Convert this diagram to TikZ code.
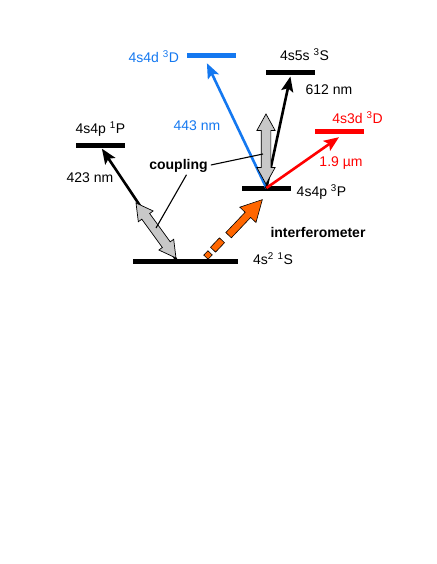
\documentclass[tikz,border=0pt]{standalone}
\usepackage{fontspec}
\setmainfont{Liberation Sans}
\usepackage{tikz}
\usetikzlibrary{arrows.meta,positioning,shapes.arrows,calc}
\definecolor{lineblue}{RGB}{20,120,240}
\definecolor{linered}{RGB}{255,0,0}
\definecolor{lineorange}{RGB}{255,102,0}
\definecolor{fillgray}{RGB}{200,200,200}

\begin{document}
\begin{tikzpicture}[x=1pt, y=-1pt,
        every node/.style={font=\fontsize{14}{16}\selectfont, inner sep=1pt},
        level/.style={rectangle, fill=black, minimum width=49pt, minimum height=5pt, inner sep=0pt},
        trans/.style={-{Stealth[length=15pt, width=12pt, inset=3pt]}, line width=2.6pt},
        cplarrow/.style={double arrow, draw=black, fill=fillgray, line width=0.7pt, minimum width=17.5pt,
            double arrow head extend=4.3pt, double arrow tip angle=58, inner xsep=0pt, inner ysep=4.5pt},
        cplline/.style={line width=1.1pt},
        piece/.style={rectangle, draw=black, fill=lineorange, line width=0.6pt, inner sep=0pt, rotate=46.5}
    ]
    \useasboundingbox (0,0) rectangle (436,564);
    % energy levels
    \node[level, fill=lineblue] (lvlD) at (211.4,56) {};
    \node[level] (lvlS) at (290.4,72.3) {};
    \node[level, fill=linered] (lvlDr) at (339,132) {};
    \node[level] (lvlPa) at (100.4,145.5) {};
    \node[level] (lvlPt) at (266.4,188) {};
    \node[level, minimum width=105.6pt] (lvlG) at (185.5,261.7) {};
    % level labels
    \node[lineblue] (tD) at (153.8,57) {4s4d \textsuperscript{3}D};
    \node (tS) at (304.5,55) {4s5s \textsuperscript{3}S};
    \node[linered] (tDr) at (357.5,118) {4s3d \textsuperscript{3}D};
    \node (tPa) at (100.4,129) {4s4p \textsuperscript{1}P};
    \node (tPt) at (321.5,192) {4s4p \textsuperscript{3}P};
    \node (tG) at (273,259) {4s\textsuperscript{2} \textsuperscript{1}S};
    % transitions
    \draw[trans, lineblue] (lvlPt.center) -- ($(lvlD.south)+(-4.5,4.5)$);
    \draw[trans] (lvlPt.center) -- ($(lvlS.south)+(0,1.5)$);
    \draw[trans, linered] (lvlPt.center) -- ($(lvlDr.south)+(0,2.5)$);
    \draw[trans] ($(lvlG.center)+(-8,0)$) -- ($(lvlPa.south)+(1.5,0.5)$);
    \node[lineblue] (wD) at (197,126) {443 nm};
    \node (wS) at (329,90) {612 nm};
    \node[linered] (wDr) at (341,163) {1.9 µm};
    \node (wPa) at (90,178) {423 nm};
    % coupling
    \node[cplarrow, minimum height=70pt, rotate=90] (cplT) at (266,149) {};
    \node[cplarrow, minimum height=68pt, rotate=-54] (cplS) at (156,230.5) {};
    \node[font=\fontsize{14}{16}\selectfont\bfseries] (cpl) at (178.5,166) {coupling};
    \draw[cplline] ($(cpl.east)+(2,-1)$) -- ($(cplT.center)+(-3,5)$);
    \draw[cplline] ($(cpl.south)+(8,1)$) -- ($(cplS.center)+(0,-2.5)$);
    % interferometer
    \node[piece, minimum width=6pt, minimum height=6pt] (oA) at (208,255) {};
    \node[piece, minimum width=13pt, minimum height=7pt] (oB) at (217.5,245) {};
    \node[single arrow, draw=black, fill=lineorange, line width=0.6pt, minimum height=49pt, minimum width=21.7pt,
        single arrow head extend=7.35pt, single arrow tip angle=56, inner xsep=0pt, inner ysep=3.5pt, rotate=46.5] (oC) at (243,220) {};
    \node[font=\fontsize{14}{16}\selectfont\bfseries] (ifm) at (318,232) {interferometer};
\end{tikzpicture}
\end{document}
